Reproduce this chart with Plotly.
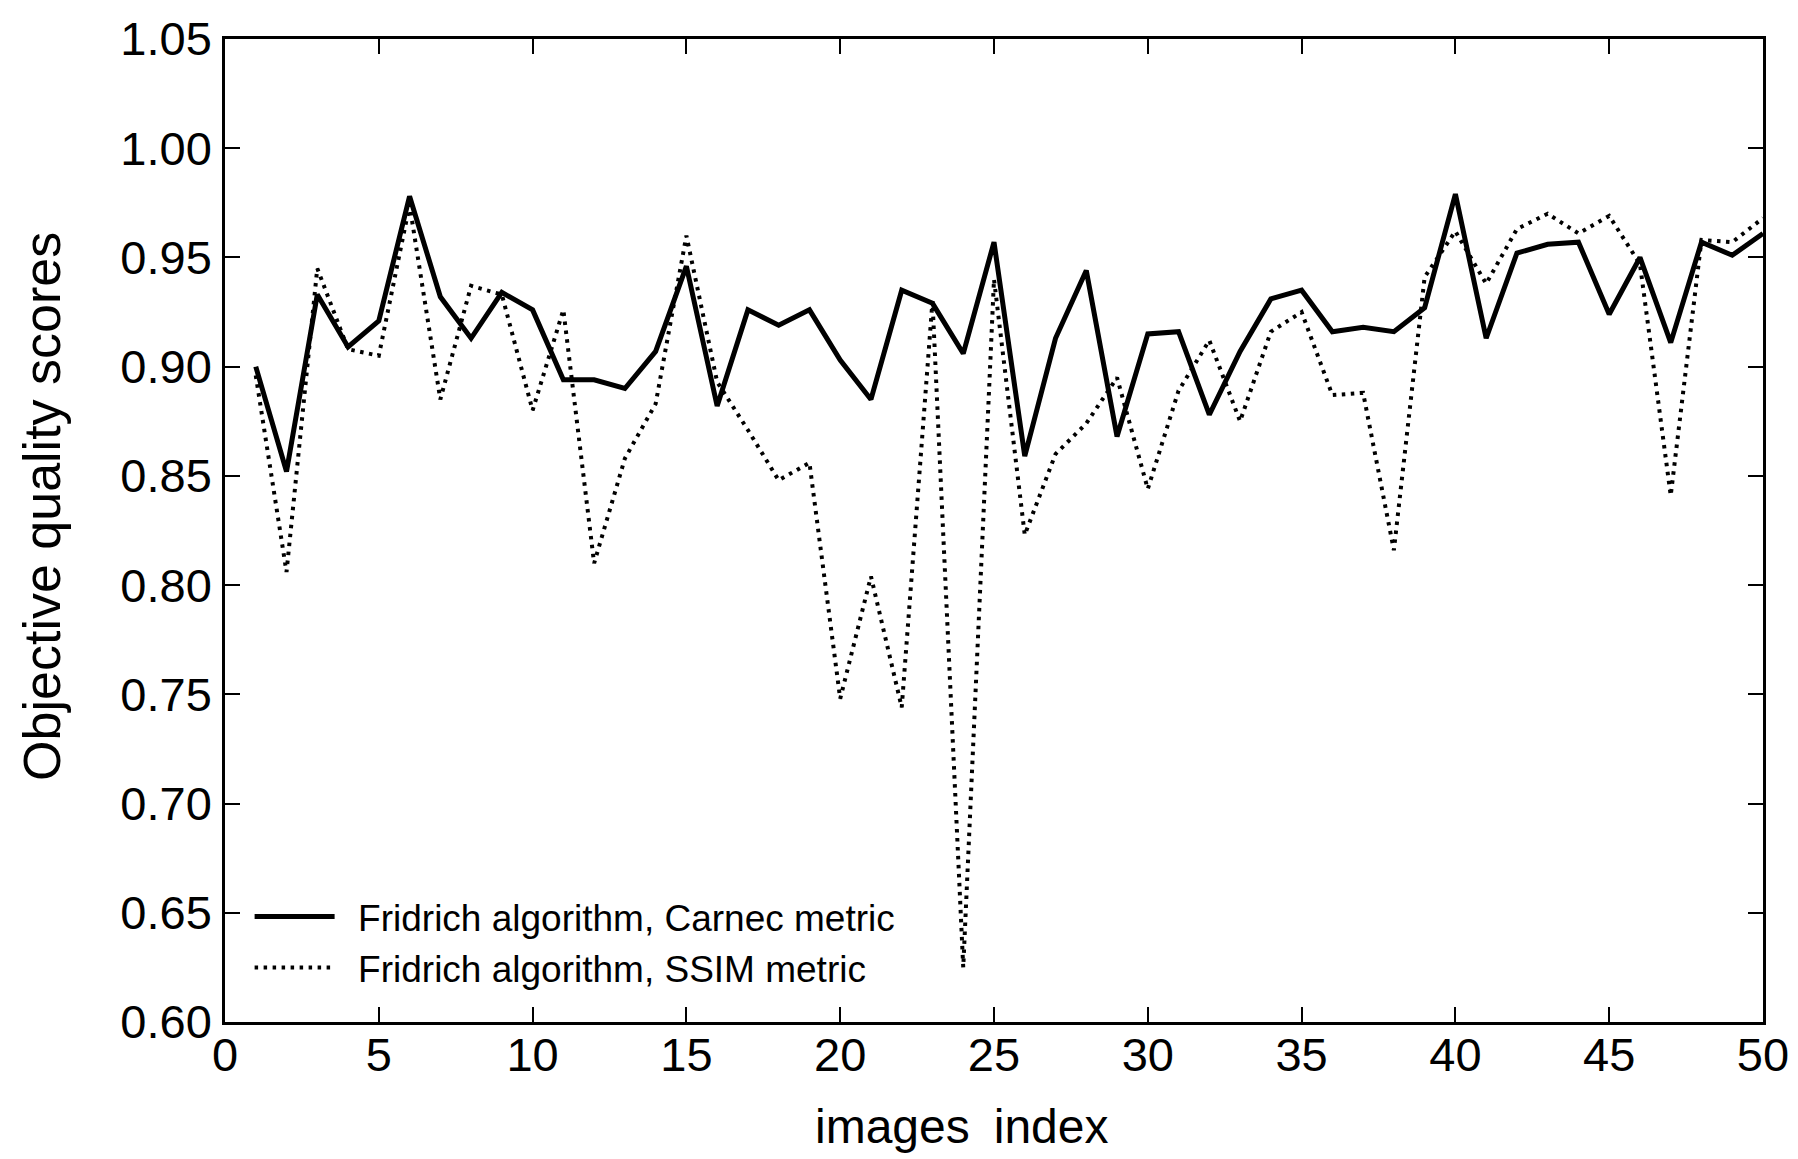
import plotly.graph_objects as go

image_index = [1, 2, 3, 4, 5, 6, 7, 8, 9, 10,
               11, 12, 13, 14, 15, 16, 17, 18, 19, 20,
               21, 22, 23, 24, 25, 26, 27, 28, 29, 30,
               31, 32, 33, 34, 35, 36, 37, 38, 39, 40,
               41, 42, 43, 44, 45, 46, 47, 48, 49, 50]

carnec_scores = [0.900, 0.852, 0.933, 0.909, 0.921, 0.978, 0.932, 0.913, 0.934, 0.926,
                 0.894, 0.894, 0.890, 0.907, 0.946, 0.882, 0.926, 0.919, 0.926, 0.903,
                 0.885, 0.935, 0.929, 0.906, 0.957, 0.859, 0.913, 0.944, 0.868, 0.915,
                 0.916, 0.878, 0.907, 0.931, 0.935, 0.916, 0.918, 0.916, 0.927, 0.979,
                 0.913, 0.952, 0.956, 0.957, 0.924, 0.950, 0.911, 0.957, 0.951, 0.961]

ssim_scores = [0.896, 0.806, 0.945, 0.908, 0.905, 0.974, 0.885, 0.937, 0.933, 0.880,
               0.926, 0.810, 0.858, 0.883, 0.960, 0.893, 0.871, 0.848, 0.856, 0.748,
               0.804, 0.744, 0.930, 0.625, 0.940, 0.823, 0.860, 0.874, 0.895, 0.844,
               0.889, 0.912, 0.875, 0.916, 0.925, 0.887, 0.888, 0.816, 0.941, 0.962,
               0.938, 0.963, 0.970, 0.961, 0.969, 0.947, 0.841, 0.958, 0.957, 0.968]

series_names = ["Fridrich algorithm, Carnec metric", "Fridrich algorithm, SSIM metric"]
x_title = "images\u2002index"
y_title = "Objective quality scores"

y_ticks = [0.60, 0.65, 0.70, 0.75, 0.80, 0.85, 0.90, 0.95, 1.00, 1.05]
x_ticks = [0, 5, 10, 15, 20, 25, 30, 35, 40, 45, 50]

FONT = "Liberation Sans, Arial, Helvetica, sans-serif"

fig = go.Figure()
fig.add_trace(go.Scatter(x=image_index, y=carnec_scores, mode="lines",
                         name="\u2002" + series_names[0], legendgroup="a",
                         line=dict(color="black", width=5)))
fig.add_trace(go.Scatter(x=image_index, y=ssim_scores, mode="lines",
                         name="\u2002" + series_names[1], legendgroup="b",
                         line=dict(color="black", width=4, dash="3.5px,5.5px")))

axis_common = dict(showline=True, linecolor="black", linewidth=2.5, mirror="ticks",
                   ticks="inside", ticklen=15, tickwidth=2, tickcolor="black",
                   showgrid=False, zeroline=False, automargin=False,
                   tickfont=dict(family=FONT, size=47, color="black"))

fig.update_xaxes(range=[0, 50], tickvals=x_ticks, ticktext=[str(v) for v in x_ticks],
                 ticklabelstandoff=-10, **axis_common)
fig.update_yaxes(range=[0.60, 1.05], tickvals=y_ticks, ticktext=[f"{v:.2f}" for v in y_ticks],
                 ticklabelstandoff=1, **axis_common)

fig.add_annotation(text=x_title, xref="paper", yref="paper", x=0.479, y=0,
                   xanchor="center", yanchor="middle", yshift=-104, showarrow=False,
                   font=dict(family=FONT, size=48, color="black"))
fig.add_annotation(text=y_title, xref="paper", yref="paper", x=0, y=0.524,
                   xanchor="center", yanchor="middle", xshift=-183, textangle=-90,
                   showarrow=False, font=dict(family=FONT, size=52, color="black"))

# page body has an 8px margin; the figure is offset by it inside the 1798x1159 window
fig.update_layout(
    width=1790, height=1151,
    margin=dict(l=217, r=35, t=31, b=137, autoexpand=False),
    paper_bgcolor="white", plot_bgcolor="white",
    showlegend=True,
    legend=dict(x=0.016, y=0.081, xanchor="left", yanchor="middle",
                bgcolor="rgba(0,0,0,0)", borderwidth=0,
                font=dict(family=FONT, size=37, color="black"),
                itemwidth=80, traceorder="grouped", tracegroupgap=0),
)

fig.write_html("out.html")
